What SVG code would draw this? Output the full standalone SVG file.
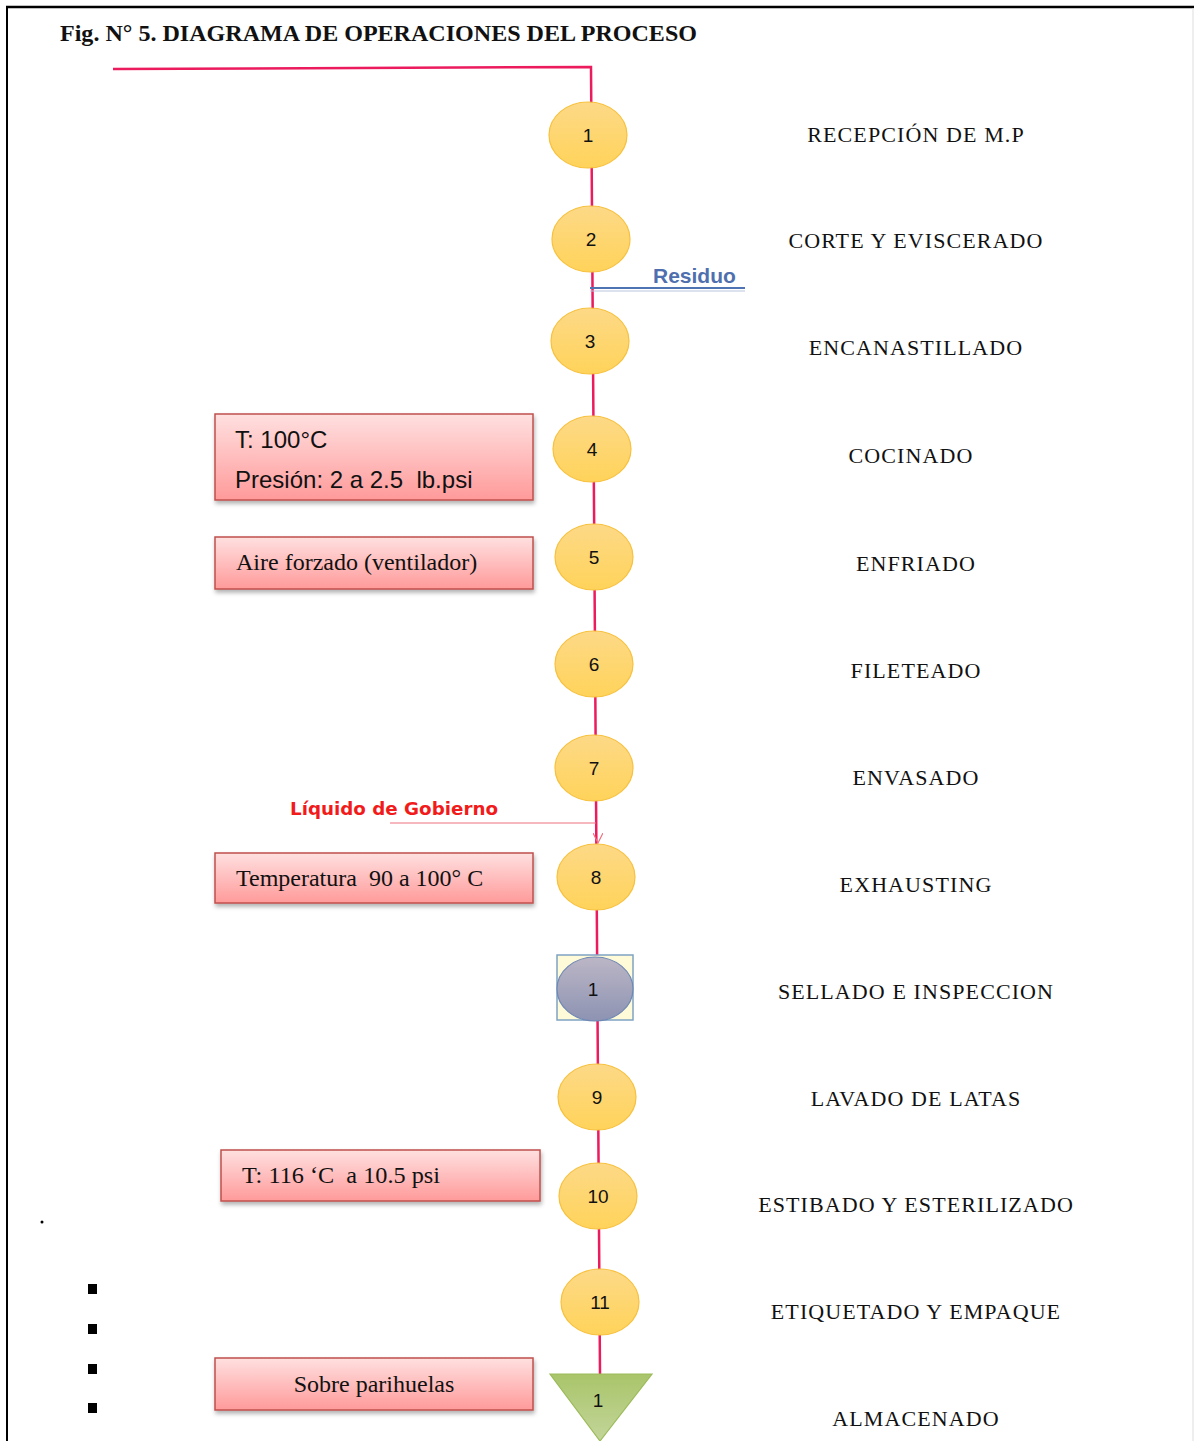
<svg xmlns="http://www.w3.org/2000/svg" width="1194" height="1441" viewBox="0 0 1194 1441">
<style>
text{white-space:pre}
.op{stroke:#f7c13e;stroke-width:1.2;fill:url(#gY)}
.num{font-family:"Liberation Sans",Arial,sans-serif;font-size:19px;fill:#111;text-anchor:middle}
.lbl{font-family:"Liberation Serif","Times New Roman",serif;font-size:22px;fill:#111;text-anchor:middle;letter-spacing:1.1px}
.box{fill:url(#gR);stroke:#c0504d;stroke-width:1.5;filter:url(#sh)}
.bt{font-family:"Liberation Serif","Times New Roman",serif;font-size:24px;fill:#111}
.bs{font-family:"Liberation Sans",Arial,sans-serif;font-size:24px;fill:#111}
.flow{stroke:#eb1b5e;stroke-width:2.5;fill:none}
</style>
<defs>
<linearGradient id="gY" x1="0" y1="0" x2="0" y2="1">
<stop offset="0" stop-color="#fdd987"/><stop offset="1" stop-color="#ffd35a"/>
</linearGradient>
<linearGradient id="gR" x1="0" y1="0" x2="0" y2="1">
<stop offset="0" stop-color="#ffe0e0"/><stop offset="1" stop-color="#ff9a9a"/>
</linearGradient>
<linearGradient id="gG" x1="0" y1="0" x2="0" y2="1">
<stop offset="0" stop-color="#a9c56a"/><stop offset="1" stop-color="#c3d59a"/>
</linearGradient>
<linearGradient id="gP" x1="0" y1="0" x2="0" y2="1">
<stop offset="0" stop-color="#bcb6c6"/><stop offset="1" stop-color="#8d93b2"/>
</linearGradient>
<filter id="sh" x="-5%" y="-10%" width="115%" height="140%">
<feDropShadow dx="1" dy="3" stdDeviation="2" flood-color="#000" flood-opacity="0.3"/>
</filter>
<marker id="ar" markerWidth="12" markerHeight="10" refX="10" refY="5" orient="auto" markerUnits="userSpaceOnUse">
<path d="M0,0 L10,5 L0,10" fill="none" stroke="#f07080" stroke-width="1.2"/>
</marker>
</defs>
<rect width="1194" height="1441" fill="#fff"/>
<g id="frame">
<line x1="6" y1="7" x2="1194" y2="7" stroke="#000" stroke-width="2.5"/>
<line x1="7" y1="6" x2="7" y2="1441" stroke="#000" stroke-width="2"/>
<line x1="1193" y1="8" x2="1193" y2="1441" stroke="#ddd" stroke-width="1"/>
</g>
<text id="title" x="60" y="41" font-family="'Liberation Serif','Times New Roman',serif" font-size="23" font-weight="bold" fill="#111" textLength="637" lengthAdjust="spacingAndGlyphs">Fig. N° 5. DIAGRAMA DE OPERACIONES DEL PROCESO</text>
<g id="connectors">
<polyline class="flow" points="113,69 591,67 600,1374"/>
<line x1="590" y1="288" x2="745" y2="288" stroke="#4f74b3" stroke-width="2"/>
<line x1="590" y1="291" x2="745" y2="291" stroke="#b9c8e0" stroke-width="1.2"/>
<line x1="390" y1="823" x2="596" y2="823" stroke="#f07080" stroke-width="1.2"/>
<line x1="598" y1="823" x2="598" y2="843" stroke="none" marker-end="url(#ar)"/>
</g>
<text id="residuo" x="653" y="283" font-family="'Liberation Sans',Arial,sans-serif" font-size="21" font-weight="bold" fill="#4f6fae">Residuo</text>
<text id="liquido" x="290" y="815" font-family="'DejaVu Sans','Liberation Sans',sans-serif" font-size="18" font-weight="bold" fill="#f21b1b" textLength="208" lengthAdjust="spacingAndGlyphs">Líquido de Gobierno</text>
<g id="n1"><ellipse class="op" cx="588" cy="135" rx="39" ry="33"/><text class="num" x="588" y="142">1</text></g>
<g id="n2"><ellipse class="op" cx="591" cy="239" rx="39" ry="33"/><text class="num" x="591" y="246">2</text></g>
<g id="n3"><ellipse class="op" cx="590" cy="341" rx="39" ry="33"/><text class="num" x="590" y="348">3</text></g>
<g id="n4"><ellipse class="op" cx="592" cy="449" rx="39" ry="33"/><text class="num" x="592" y="456">4</text></g>
<g id="n5"><ellipse class="op" cx="594" cy="557" rx="39" ry="33"/><text class="num" x="594" y="564">5</text></g>
<g id="n6"><ellipse class="op" cx="594" cy="664" rx="39" ry="33"/><text class="num" x="594" y="671">6</text></g>
<g id="n7"><ellipse class="op" cx="594" cy="768" rx="39" ry="33"/><text class="num" x="594" y="775">7</text></g>
<g id="n8"><ellipse class="op" cx="596" cy="877" rx="39" ry="33"/><text class="num" x="596" y="884">8</text></g>
<g id="insp1"><rect x="557" y="955" width="76" height="65" fill="#fffbd8" stroke="#7fa3c3" stroke-width="1.5"/><ellipse cx="595" cy="989" rx="38" ry="32" fill="url(#gP)" stroke="#6f88b5" stroke-width="1.2"/><text class="num" x="593" y="996">1</text></g>
<g id="n9"><ellipse class="op" cx="597" cy="1097" rx="39" ry="33"/><text class="num" x="597" y="1104">9</text></g>
<g id="n10"><ellipse class="op" cx="598" cy="1196" rx="39" ry="33"/><text class="num" x="598" y="1203">10</text></g>
<g id="n11"><ellipse class="op" cx="600" cy="1302" rx="39" ry="33"/><text class="num" x="600" y="1309">11</text></g>
<g id="alm1"><polygon points="550,1374 652,1374 600,1441" fill="url(#gG)" stroke="#9bbb59" stroke-width="1.2"/><text class="num" x="598" y="1407">1</text></g>
<g id="labels">
<text class="lbl" x="916" y="142">RECEPCIÓN DE M.P</text>
<text class="lbl" x="916" y="248">CORTE Y EVISCERADO</text>
<text class="lbl" x="916" y="355">ENCANASTILLADO</text>
<text class="lbl" x="911" y="463">COCINADO</text>
<text class="lbl" x="916" y="571">ENFRIADO</text>
<text class="lbl" x="916" y="678">FILETEADO</text>
<text class="lbl" x="916" y="785">ENVASADO</text>
<text class="lbl" x="916" y="892">EXHAUSTING</text>
<text class="lbl" x="916" y="999">SELLADO E INSPECCION</text>
<text class="lbl" x="916" y="1106">LAVADO DE LATAS</text>
<text class="lbl" x="916" y="1212">ESTIBADO Y ESTERILIZADO</text>
<text class="lbl" x="916" y="1319">ETIQUETADO Y EMPAQUE</text>
<text class="lbl" x="916" y="1426">ALMACENADO</text>
</g>
<g id="b1"><rect class="box" x="215" y="414" width="318" height="86"/><text class="bs" x="235" y="448">T: 100°C</text><text class="bs" x="235" y="488">Presión: 2 a 2.5  lb.psi</text></g>
<g id="b2"><rect class="box" x="215" y="537" width="318" height="52"/><text class="bt" x="236" y="570">Aire forzado (ventilador)</text></g>
<g id="b3"><rect class="box" x="215" y="853" width="318" height="50"/><text class="bt" x="236" y="886">Temperatura  90 a 100° C</text></g>
<g id="b4"><rect class="box" x="221" y="1150" width="319" height="51"/><text class="bt" x="242" y="1183" textLength="198" lengthAdjust="spacingAndGlyphs">T: 116 ‘C  a 10.5 psi</text></g>
<g id="b5"><rect class="box" x="215" y="1358" width="318" height="52"/><text class="bt" x="374" y="1392" text-anchor="middle">Sobre parihuelas</text></g>
<g id="marks" fill="#000">
<circle cx="42" cy="1222" r="1.5"/>
<rect x="88" y="1284" width="9" height="10"/>
<rect x="88" y="1324" width="9" height="10"/>
<rect x="88" y="1364" width="9" height="10"/>
<rect x="88" y="1403" width="9" height="10"/>
</g>
</svg>
